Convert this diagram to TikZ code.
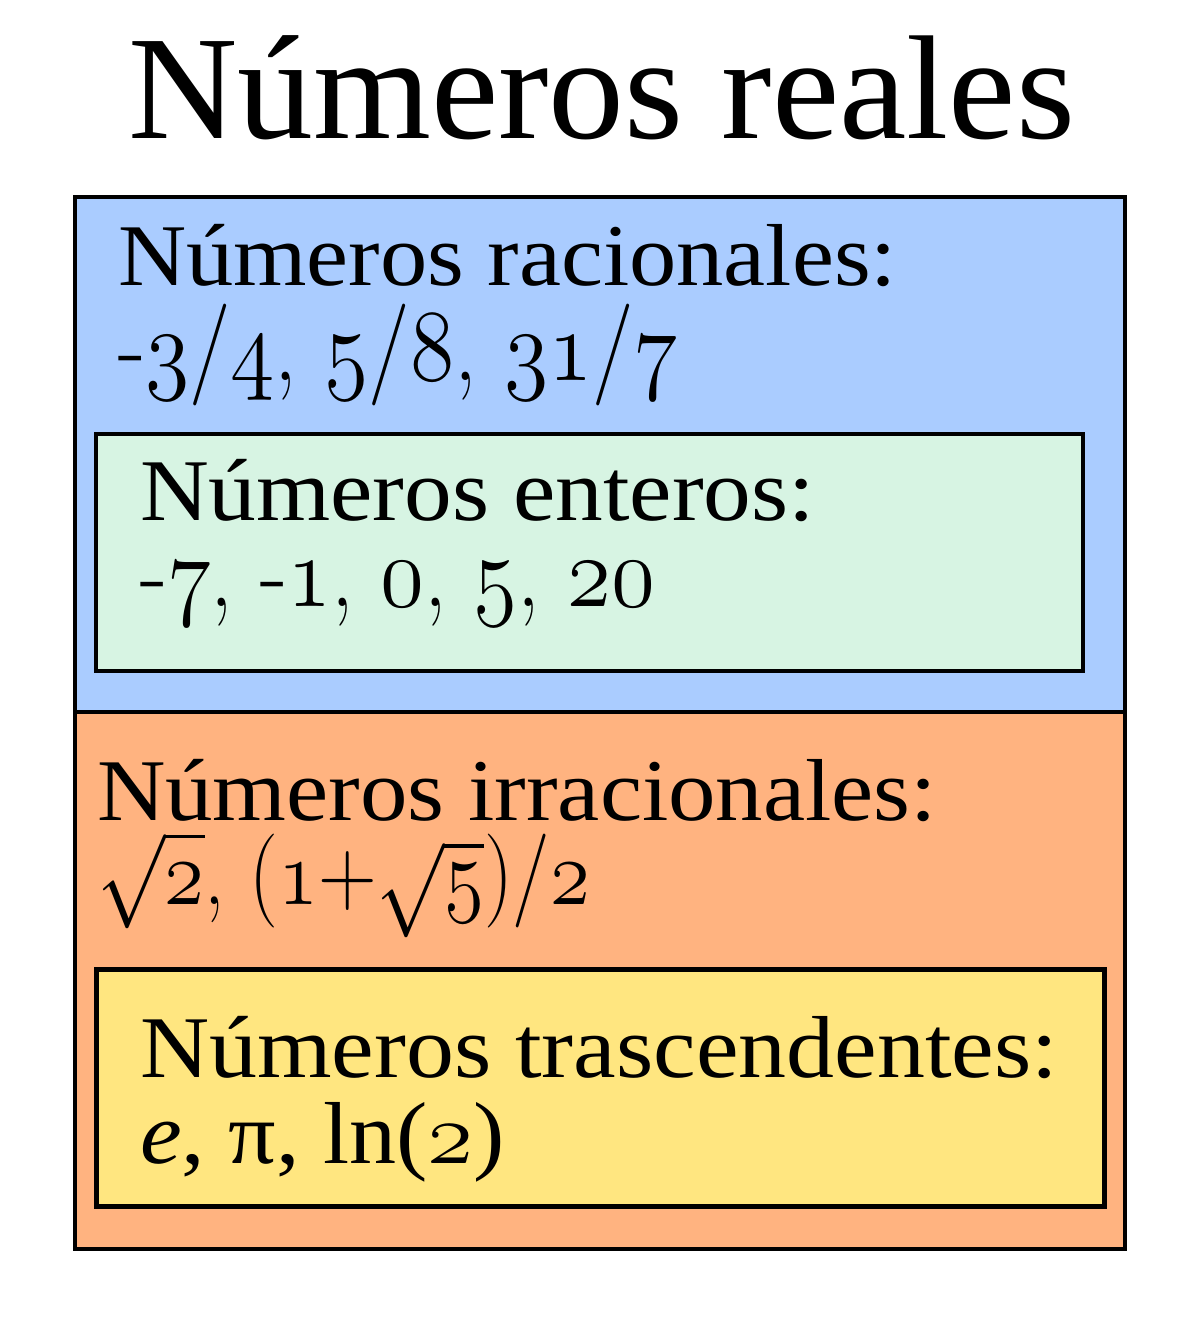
\RequirePackage{fix-cm}
\documentclass[tikz,border=0pt]{standalone}
\usepackage{fontspec}
\setmainfont{Liberation Serif}
\usepackage{graphicx}
\newcommand\osd[1]{{\fontencoding{OML}\fontfamily{cmm}\fontseries{m}\fontshape{it}\selectfont #1}}
\newcommand\cmtxt{\fontfamily{lmr}\selectfont}
\newcommand\fitto[2]{\resizebox{#1}{\height}{#2}}
\definecolor{racblue}{HTML}{AACCFF}
\definecolor{entgreen}{HTML}{D7F4E3}
\definecolor{irrorange}{HTML}{FFB380}
\definecolor{trayellow}{HTML}{FFE680}
\begin{document}
\begin{tikzpicture}[x=1pt,y=-1pt,
  txt/.style={anchor=base west, inner sep=0pt, outer sep=0pt},
  big/.style={font=\fontsize{148}{150}\selectfont},
  lbl/.style={font=\fontsize{88}{90}\selectfont},
  num/.style={font=\fontsize{102}{104}\selectfont\cmtxt},
  rootnum/.style={font=\fontsize{94}{96}\selectfont\cmtxt},
  frame/.style={draw=black, line width=3.5pt},
  inner/.style={draw=black, line width=3.5pt},
  thick inner/.style={draw=black, line width=5pt}]
\useasboundingbox (0,0) rectangle (1200,1329);
\fill[white] (0,0) rectangle (1200,1329);
% sections
\fill[racblue] (75,197) rectangle (1125,712);
\fill[irrorange] (75,712) rectangle (1125,1249);
\draw[inner, fill=entgreen] (96,434) rectangle (1083,671);
\draw[thick inner, fill=trayellow] (96,969) rectangle (1104,1206);
\draw[frame] (75,197) rectangle (1125,1249);
\draw[frame] (75,712) -- (1125,712);
% texts
\node[txt, big] (title) at (128,139) {\fitto{947pt}{Números reales}};
\node[txt, lbl] (rac) at (118,286) {\fitto{779pt}{Números racionales:}};
\node[txt, num] (racn) at (118,380) {\fitto{560pt}{-\osd{3}/\osd{4}, \osd{5}/\osd{8}, \osd{31}/\osd{7}}};
\node[txt, lbl] (ent) at (140,520) {\fitto{675pt}{Números enteros:}};
\node[txt, num] (entn) at (140,606) {\fitto{515pt}{-\osd{7}, -\osd{1}, \osd{0}, \osd{5}, \osd{20}}};
\node[txt, lbl] (irr) at (97,820) {\fitto{840pt}{Números irracionales:}};
\node[txt, rootnum] (irrn) at (97,904) {\fitto{493pt}{$\sqrt{\mathnormal{2}}$, (\osd{1}+$\sqrt{\mathnormal{5}}$)/\osd{2}}};
\node[txt, lbl] (tra) at (140,1077) {\fitto{918pt}{Números trascendentes:}};
\node[txt, lbl] (tran) at (140,1163) {\fitto{365pt}{\textit{e}, π, ln(\osd{2})}};
\end{tikzpicture}
\end{document}
